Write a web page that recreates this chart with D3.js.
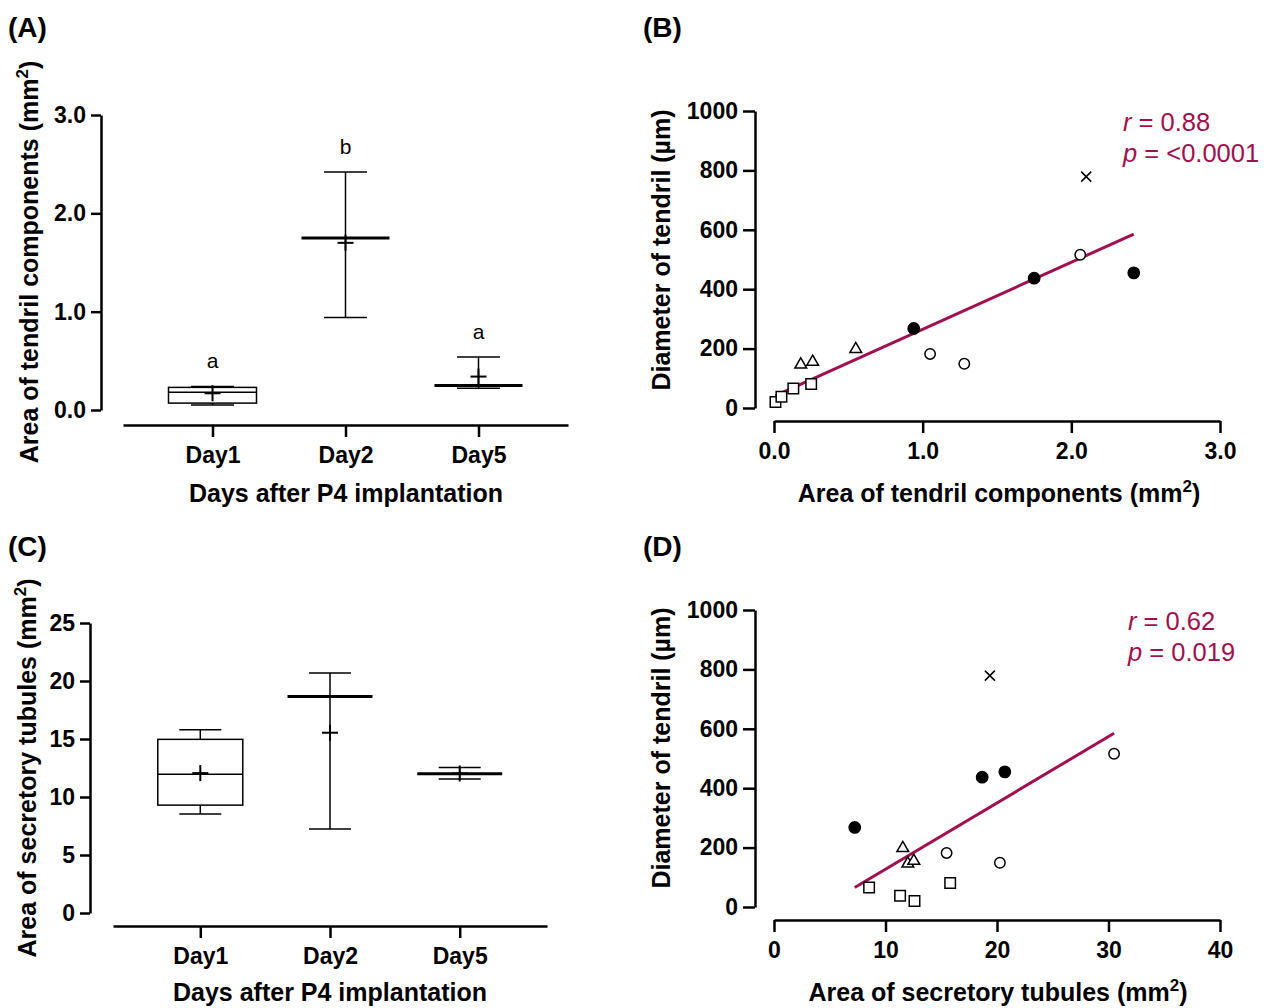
<!DOCTYPE html>
<html>
<head>
<meta charset="utf-8">
<title>tendril figure</title>
<style>
  body { margin: 0; background: #fff; }
  svg text { font-family: "Liberation Sans", Arial, sans-serif; }
</style>
</head>
<body>
<div id="container"></div>
<script src="https://cdn.jsdelivr.net/npm/d3@7/dist/d3.min.js"></script>
<script>
// ---- data ----
var days = ["Day1", "Day2", "Day5"];
var letters = ["a", "b", "a"];

// panel A: area of tendril components (mm2), box summaries
var tendrilMin = [0.05, 0.94, 0.22];
var tendrilQ1 = [0.07, null, null];
var tendrilMedian = [0.18, 1.75, 0.25];
var tendrilQ3 = [0.23, null, null];
var tendrilMax = [0.24, 2.42, 0.54];
var tendrilMean = [0.17, 1.70, 0.34];

// panel C: area of secretory tubules (mm2), box summaries
var tubuleMin = [8.53, 7.24, 11.55];
var tubuleQ1 = [9.3, null, null];
var tubuleMedian = [11.96, 18.67, 12.0];
var tubuleQ3 = [14.97, null, null];
var tubuleMax = [15.8, 20.7, 12.54];
var tubuleMean = [12.06, 15.54, 12.03];

// panels B and D: one entry per sample
var groups = ["square","square","square","square","triangle","triangle","triangle",
              "open","open","open","filled","filled","filled","cross"];
var diameter = [20, 38, 66, 81, 146, 155, 198, 182, 149, 516, 268, 437, 455, 779];
var tendrilArea = [0.01, 0.05, 0.13, 0.25, 0.18, 0.26, 0.55, 1.05, 1.28, 2.06, 0.94, 1.75, 2.42, 2.10];
var tubuleArea = [12.6, 11.31, 8.53, 15.8, 12.0, 12.54, 11.55, 15.48, 20.26, 30.5, 7.24, 18.67, 20.7, 19.36];

var statsB = ["r = 0.88", "p = <0.0001"];
var statsD = ["r = 0.62", "p = 0.019"];

var crimson = "#a0104f";
var tickFont = 23, titleFont = 25;

var svg = d3.select("#container").append("svg")
  .attr("width", 1266).attr("height", 1008);

function styleAxis(g) {
  g.selectAll("path.domain").attr("stroke", "#000").attr("stroke-width", 2.5);
  g.selectAll(".tick line").attr("stroke", "#000").attr("stroke-width", 2.5);
  g.selectAll(".tick text").attr("fill", "#000")
    .style("font-size", tickFont + "px").style("font-weight", "bold");
}

function panelLabel(x, y, t) {
  svg.append("text").attr("x", x).attr("y", y).text(t)
    .style("font-size", "28px").style("font-weight", "bold");
}

// text with superscript 2 at the end
function axisTitle(x, y, main, rotate) {
  var t = svg.append("text")
    .attr("text-anchor", "middle")
    .style("font-size", titleFont + "px").style("font-weight", "bold");
  if (rotate) t.attr("transform", "translate(" + x + "," + y + ") rotate(-90)");
  else t.attr("x", x).attr("y", y);
  t.append("tspan").text(main);
  return t;
}
function areaTitle(x, y, main, rotate) {
  var t = axisTitle(x, y, main + " (mm", rotate);
  t.append("tspan").attr("dy", -10).style("font-size", "17px").text("2");
  t.append("tspan").attr("dy", 10).text(")");
}

function boxPanel(o) {
  var y = d3.scaleLinear().domain(o.ydom).range(o.yrange);
  var x = d3.scalePoint().domain(days).range(o.xrange).padding(0.673);

  var ya = svg.append("g").attr("transform", "translate(" + o.yx + ",0)")
    .call(d3.axisLeft(y).tickValues(o.yticks).tickFormat(o.fmt).tickSize(10).tickSizeOuter(0).tickPadding(5));
  styleAxis(ya);
  var xa = svg.append("g").attr("transform", "translate(0," + o.xy + ")")
    .call(d3.axisBottom(x).tickSize(12).tickSizeOuter(0).tickPadding(10));
  styleAxis(xa);

  days.forEach(function(d, i) {
    var cx = x(d), g = svg.append("g").attr("stroke", "#000").attr("fill", "none");
    g.append("line").attr("x1", cx).attr("x2", cx)
      .attr("y1", y(o.min[i])).attr("y2", y(o.max[i])).attr("stroke-width", 1.5);
    [o.min[i], o.max[i]].forEach(function(v) {
      g.append("line").attr("x1", cx - o.cap).attr("x2", cx + o.cap)
        .attr("y1", y(v)).attr("y2", y(v)).attr("stroke-width", 1.5);
    });
    if (o.q1[i] != null) {
      g.append("rect").attr("x", cx - o.half).attr("width", o.half * 2)
        .attr("y", y(o.q3[i])).attr("height", y(o.q1[i]) - y(o.q3[i]))
        .attr("fill", "#fff").attr("stroke-width", 1.5);
      g.append("line").attr("x1", cx - o.half).attr("x2", cx + o.half)
        .attr("y1", y(o.median[i])).attr("y2", y(o.median[i])).attr("stroke-width", 1.5);
    } else {
      g.append("line").attr("x1", cx - o.half).attr("x2", cx + o.half)
        .attr("y1", y(o.median[i])).attr("y2", y(o.median[i])).attr("stroke-width", 3);
    }
    // mean marker
    var my = y(o.mean[i]);
    g.append("line").attr("x1", cx - 8).attr("x2", cx + 8).attr("y1", my).attr("y2", my).attr("stroke-width", 2);
    g.append("line").attr("x1", cx).attr("x2", cx).attr("y1", my - 8).attr("y2", my + 8).attr("stroke-width", 2);
    if (o.letters) {
      svg.append("text").attr("x", cx).attr("y", y(o.max[i]) - 18)
        .attr("text-anchor", "middle").style("font-size", "21px").text(o.letters[i]);
    }
  });
}

var shapes = {
  square: d3.symbol().type(d3.symbolSquare).size(110),
  triangle: d3.symbol().type(d3.symbolTriangle).size(60),
  open: d3.symbol().type(d3.symbolCircle).size(85),
  filled: d3.symbol().type(d3.symbolCircle).size(100),
  cross: d3.symbol().type({ draw: function(ctx, size) {
    var r = Math.sqrt(size) / 2;
    ctx.moveTo(-r, -r); ctx.lineTo(r, r); ctx.moveTo(r, -r); ctx.lineTo(-r, r);
  }}).size(100)
};

function scatterPanel(o) {
  var x = d3.scaleLinear().domain(o.xdom).range(o.xrange);
  var y = d3.scaleLinear().domain([0, 1000]).range(o.yrange);

  var ya = svg.append("g").attr("transform", "translate(" + o.yx + ",0)")
    .call(d3.axisLeft(y).tickValues([0, 200, 400, 600, 800, 1000]).tickFormat(d3.format("d"))
      .tickSize(12).tickSizeOuter(0).tickPadding(5));
  styleAxis(ya);
  var xa = svg.append("g").attr("transform", "translate(0," + o.xy + ")")
    .call(d3.axisBottom(x).tickValues(o.xticks).tickFormat(o.fmt).tickSize(12).tickSizeOuter(0).tickPadding(10));
  styleAxis(xa);

  // least squares fit
  var xs = o.xs, mx = d3.mean(xs), my = d3.mean(diameter);
  var sxy = d3.sum(xs, function(v, i) { return (v - mx) * (diameter[i] - my); });
  var sxx = d3.sum(xs, function(v) { return (v - mx) * (v - mx); });
  var slope = sxy / sxx, icpt = my - slope * mx;
  var ext = d3.extent(xs);
  svg.append("line")
    .attr("x1", x(ext[0])).attr("y1", y(icpt + slope * ext[0]))
    .attr("x2", x(ext[1])).attr("y2", y(icpt + slope * ext[1]))
    .attr("stroke", crimson).attr("stroke-width", 3);

  svg.append("g").selectAll("path").data(xs).enter().append("path")
    .attr("transform", function(v, i) { return "translate(" + x(v) + "," + y(diameter[i]) + ")"; })
    .attr("d", function(v, i) { return shapes[groups[i]](); })
    .attr("fill", function(v, i) { return groups[i] == "filled" ? "#000" : (groups[i] == "cross" ? "none" : "#fff"); })
    .attr("stroke", "#000").attr("stroke-width", 1.5);

  o.stats.forEach(function(s, i) {
    var t = svg.append("text").attr("x", o.sx).attr("y", o.sy + i * 31)
      .attr("fill", crimson).style("font-size", "25.5px");
    t.append("tspan").style("font-style", "italic").text(s.charAt(0));
    t.append("tspan").text(s.slice(1));
  });
}

// ---- panel A ----
panelLabel(8, 37, "(A)");
boxPanel({ ydom: [0, 3], yrange: [410, 115], yx: 101, yticks: [0, 1, 2, 3], fmt: d3.format(".1f"),
  xrange: [123, 568], xy: 425, half: 44, cap: 21.5,
  min: tendrilMin, q1: tendrilQ1, median: tendrilMedian, q3: tendrilQ3, max: tendrilMax, mean: tendrilMean,
  letters: letters });
areaTitle(38, 262, "Area of tendril components", true);
axisTitle(346, 502, "Days after P4 implantation", false);

// ---- panel B ----
panelLabel(643, 37, "(B)");
scatterPanel({ xdom: [0, 3], xrange: [774, 1220], yrange: [408, 111], yx: 755, xy: 421,
  xticks: [0, 1, 2, 3], fmt: d3.format(".1f"), xs: tendrilArea, stats: statsB, sx: 1123, sy: 131 });
axisTitle(670, 250, "Diameter of tendril (µm)", true);
areaTitle(999, 502, "Area of tendril components", false);

// ---- panel C ----
panelLabel(8, 556, "(C)");
boxPanel({ ydom: [0, 25], yrange: [913, 623], yx: 90, yticks: [0, 5, 10, 15, 20, 25], fmt: d3.format("d"),
  xrange: [113, 547], xy: 926, half: 42.5, cap: 21,
  min: tubuleMin, q1: tubuleQ1, median: tubuleMedian, q3: tubuleQ3, max: tubuleMax, mean: tubuleMean });
areaTitle(36, 768, "Area of secretory tubules", true);
axisTitle(330, 1001, "Days after P4 implantation", false);

// ---- panel D ----
panelLabel(643, 556, "(D)");
scatterPanel({ xdom: [0, 40], xrange: [774, 1220], yrange: [907, 610], yx: 755, xy: 920,
  xticks: [0, 10, 20, 30, 40], fmt: d3.format("d"), xs: tubuleArea, stats: statsD, sx: 1128, sy: 630 });
axisTitle(670, 748, "Diameter of tendril (µm)", true);
areaTitle(998, 1001, "Area of secretory tubules", false);
</script>
</body>
</html>
